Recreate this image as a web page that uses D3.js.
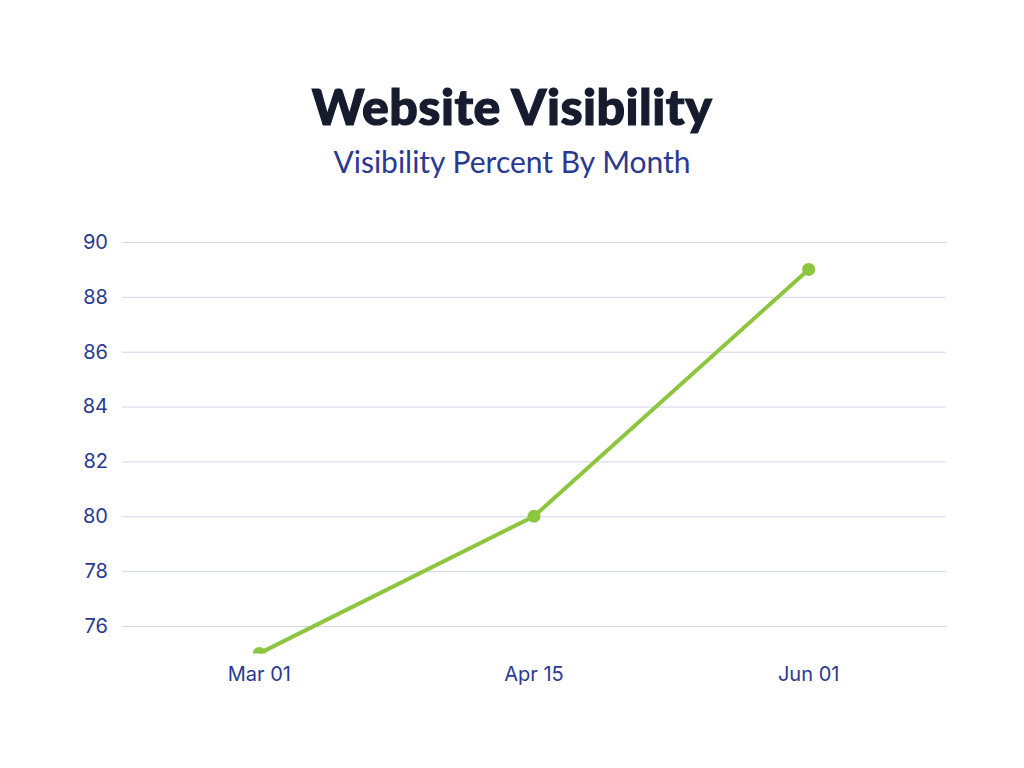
<!DOCTYPE html>
<html>
<head>
<meta charset="utf-8">
<script src="https://cdn.jsdelivr.net/npm/d3@7"></script>
<style>
	body { margin: 0; background: #fff; }
</style>
</head>
<body>
<div id="chart"></div>
<script>
var months = ['Mar 01', 'Apr 15', 'Jun 01'];
var visibility = [75, 80, 89];
var yTicks = [76, 78, 80, 82, 84, 86, 88, 90];

var width = 1024;
var height = 768;
var plotLeft = 122, plotRight = 946, plotTop = 242, plotBottom = 653.4;
var blue = '#2b3990';
var green = '#8cc63f';

var svg = d3.select('#chart')
	.append('svg')
	.attr('width', width)
	.attr('height', height);

svg.append('text')
	.attr('x', 512)
	.attr('y', 125)
	.attr('text-anchor', 'middle')
	.style('font-family', 'Lato')
	.style('font-weight', 900)
	.style('font-size', '50px')
	.style('fill', '#161b2e')
	.style('stroke', '#161b2e')
	.style('stroke-width', 1.2)
	.style('letter-spacing', '0.5px')
	.text('Website Visibility');

svg.append('text')
	.attr('x', 512)
	.attr('y', 173)
	.attr('text-anchor', 'middle')
	.style('font-family', 'Lato')
	.style('font-size', '30px')
	.style('fill', blue)
	.text('Visibility Percent By Month');

var x = d3.scaleBand()
	.domain(months)
	.range([plotLeft, plotRight])
	.padding(0);

var y = d3.scaleLinear()
	.domain([75, 90])
	.range([plotBottom, plotTop]);

// gridlines + y labels
var yAxis = svg.append('g')
	.attr('transform', 'translate(' + plotLeft + ',0)')
	.call(d3.axisLeft(y).tickValues(yTicks).tickSize(-(plotRight - plotLeft)).tickPadding(14).tickFormat(d3.format('d')));
yAxis.select('.domain').remove();
yAxis.selectAll('line').attr('stroke', '#d2d4ea').attr('stroke-width', 1);
yAxis.selectAll('text')
	.style('font-family', 'Inter')
	.style('font-size', '20px')
	.style('fill', blue);

var xAxis = svg.append('g')
	.attr('transform', 'translate(0,' + plotBottom + ')')
	.call(d3.axisBottom(x).tickSize(0).tickPadding(13));
xAxis.select('.domain').remove();
xAxis.selectAll('text')
	.style('font-family', 'Inter')
	.style('font-size', '20px')
	.style('fill', blue);

svg.append('clipPath')
	.attr('id', 'plot')
	.append('rect')
	.attr('x', plotLeft)
	.attr('y', 0)
	.attr('width', plotRight - plotLeft)
	.attr('height', plotBottom);

var data = months.map(function(m, i){ return {month: m, value: visibility[i]}; });

var line = d3.line()
	.x(function(d){ return x(d.month) + x.bandwidth() / 2; })
	.y(function(d){ return y(d.value); });

var plot = svg.append('g').attr('clip-path', 'url(#plot)');

plot.append('path')
	.datum(data)
	.attr('d', line)
	.attr('fill', 'none')
	.attr('stroke', green)
	.attr('stroke-width', 4);

plot.selectAll('circle')
	.data(data)
	.enter()
	.append('circle')
	.attr('cx', function(d){ return x(d.month) + x.bandwidth() / 2; })
	.attr('cy', function(d){ return y(d.value); })
	.attr('r', 6.5)
	.attr('fill', green);
</script>
</body>
</html>
